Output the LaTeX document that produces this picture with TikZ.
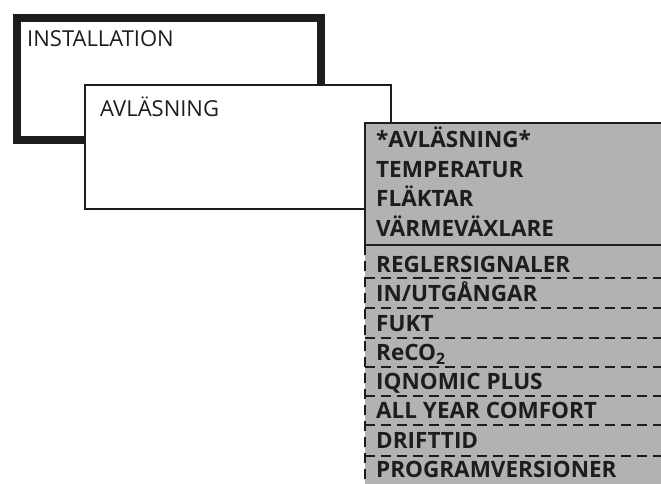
\documentclass[tikz,border=0pt]{standalone}
\usepackage{fontspec}
\setmainfont{Open Sans}
\definecolor{ink}{HTML}{1D1D1B}
\definecolor{panel}{HTML}{B2B2B2}
\begin{document}
\begin{tikzpicture}[
    x=1pt, y=-1pt,
    frame/.style={draw=ink, line width=8pt, minimum width=304pt, minimum height=122pt, inner sep=0pt},
    sub/.style={draw=ink, fill=white, line width=1.6pt, minimum width=306pt, minimum height=124pt, inner sep=0pt},
    title/.style={anchor=base west, inner sep=0pt, font=\fontsize{22}{26}\selectfont, text=ink},
    item/.style={anchor=base west, inner sep=0pt, font=\fontsize{22.5}{26}\selectfont\bfseries, text=ink},
    sep/.style={draw=ink, line width=1.6pt},
    dsep/.style={draw=ink, line width=2pt, dash pattern=on 10pt off 6pt}
]
\useasboundingbox (0,0) rectangle (661,484);

% Menu boxes
\node[frame, anchor=north west] (inst) at (13,14) {};
\node[sub, anchor=north west] (avl) at (84,84) {};
\fill[panel] (365,123) rectangle (670,490);
\coordinate (ptl) at (365,123);
\coordinate (ptr) at (670,123);
\coordinate (pml) at (365,245);
\coordinate (pmr) at (670,245);
\coordinate (pbl) at (365,490);

% Box titles
\node[title] (tinst) at (27,47) {INSTALLATION};
\node[title] (tavl) at (100,117) {AVLÄSNING};

% Panel border
\draw[sep] (ptr) -- (ptl) -- (pml);
\draw[sep] (pml) -- (pmr);
\draw[dsep] (pml) -- (pbl);

% Menu items
\node[item] (m1) at (376,147) {*AVLÄSNING*};
\node[item] (m2) at (376,177) {TEMPERATUR};
\node[item] (m3) at (376,206) {FLÄKTAR};
\node[item] (m4) at (376,236) {VÄRMEVÄXLARE};
\node[item] (m5) at (376,272) {REGLERSIGNALER};
\node[item] (m6) at (376,301.5) {IN/UTGÅNGAR};
\node[item] (m7) at (376,331) {FUKT};
\node[item] (m8) at (376,360) {ReCO\textsubscript{2}};
\node[item] (m9) at (376,389) {IQNOMIC PLUS};
\node[item] (m10) at (376,418) {ALL YEAR COMFORT};
\node[item] (m11) at (376,448) {DRIFTTID};
\node[item] (m12) at (376,477) {PROGRAMVERSIONER};

% Dashed separators
\draw[dsep] (365,278) -- (670,278);
\draw[dsep] (365,308) -- (670,308);
\draw[dsep] (365,338) -- (670,338);
\draw[dsep] (365,367) -- (670,367);
\draw[dsep] (365,396) -- (670,396);
\draw[dsep] (365,425) -- (670,425);
\draw[dsep] (365,456) -- (670,456);

\end{tikzpicture}
\end{document}
